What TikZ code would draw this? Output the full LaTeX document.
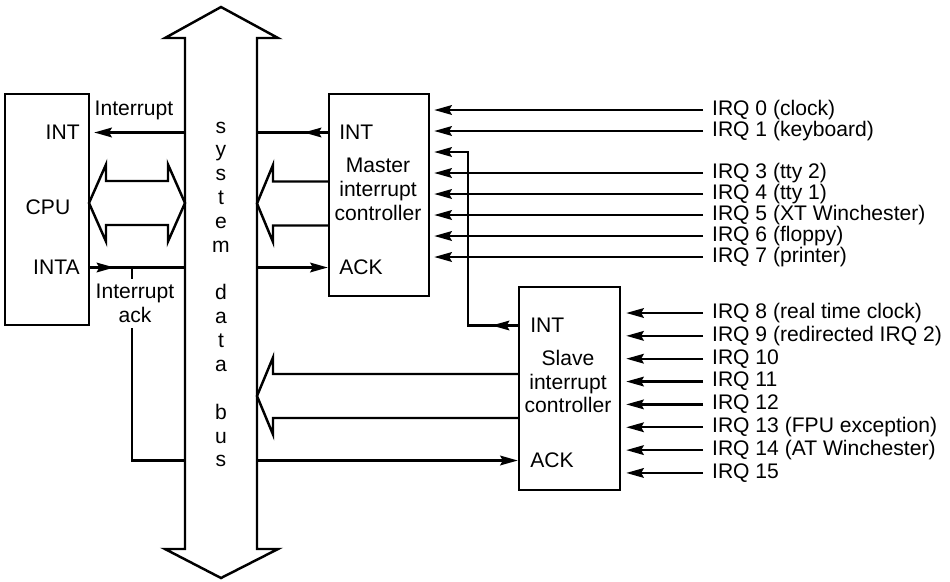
\documentclass[tikz,border=0pt]{standalone}
\usepackage{fontspec}
\setmainfont{Liberation Sans}
\usetikzlibrary{arrows.meta, positioning, calc, decorations.markings}

\begin{document}
\begin{tikzpicture}[
    every node/.style={font=\fontsize{12}{13.6}\selectfont},
    wire/.style={line width=1.3pt},
    sig/.style={wire, -{Stealth[length=10pt, width=5.5pt, inset=1.5pt]}},
    midsig/.style={wire, postaction={decorate}, decoration={markings,
        mark=at position #1 with {\arrow{Stealth[length=10pt, width=5.5pt, inset=1.5pt]}}}},
    box/.style={draw, line width=1.4pt, inner sep=0pt},
    lbl/.style={inner sep=0pt},
    irq/.style={inner sep=5pt, anchor=west},
    fat/.style={line width=1.4pt, line join=miter},
]
\useasboundingbox (0,0) rectangle (19,11.62);

% ---------------------------------------------------------------- the bus
\coordinate (busL) at (3.70, 0);
\coordinate (busR) at (5.14, 0);
\draw[fat] (4.42, 11.48) -- (5.56, 10.86) -- (5.14, 10.86) -- (5.14, 0.64) -- (5.56, 0.64)
    -- (4.42, 0.06) -- (3.30, 0.64) -- (3.70, 0.64) -- (3.70, 10.86) -- (3.30, 10.86) -- cycle;
\foreach \i/\c in {0/s, 1/y, 2/s, 3/t, 4/e, 5/m, 7/d, 8/a, 9/t, 10/a, 12/b, 13/u, 14/s}{
    \node[lbl, anchor=base] (bus\i) at (4.42, {8.96 - \i*0.477}) {\c};
}

% ---------------------------------------------------------------- cpu
\node[box, minimum width=1.68cm, minimum height=4.62cm] (cpu) at (0.94, 7.43) {};
\node[lbl, anchor=east] (cint) at (1.60, 8.97) {INT};
\node[lbl] (cname) at (0.96, 7.48) {CPU};
\node[lbl, anchor=east] (cinta) at (1.60, 6.27) {INTA};
\draw[fat] (1.78, 7.56) -- (2.12, 8.33) -- (2.12, 8.00) -- (3.36, 8.00) -- (3.36, 8.33)
    -- (3.70, 7.56) -- (3.36, 6.79) -- (3.36, 7.12) -- (2.12, 7.12) -- (2.12, 6.79) -- cycle;

% ---------------------------------------------------------------- master
\node[box, minimum width=2.00cm, minimum height=4.04cm] (master) at (7.58, 7.72) {};
\node[lbl, anchor=west] (mint) at (6.78, 8.97) {INT};
\node[lbl, align=center] (mname) at (7.56, 7.84) {Master\\interrupt\\controller};
\node[lbl, anchor=west] (mack) at (6.78, 6.27) {ACK};
\draw[fat] (master.west |- 0,7.99) -- (5.46, 7.99) -- (5.46, 8.32) -- (5.14, 7.55)
    -- (5.46, 6.78) -- (5.46, 7.11) -- (master.west |- 0,7.11);

% ---------------------------------------------------------------- slave
\node[box, minimum width=2.02cm, minimum height=4.06cm] (slave) at (11.39, 3.85) {};
\node[lbl, anchor=west] (sint) at (10.60, 5.11) {INT};
\node[lbl, align=center] (sname) at (11.36, 3.99) {Slave\\interrupt\\controller};
\node[lbl, anchor=west] (sack) at (10.60, 2.41) {ACK};
\draw[fat] (slave.west |- 0,4.14) -- (5.46, 4.14) -- (5.46, 4.47) -- (5.14, 3.70)
    -- (5.46, 2.93) -- (5.46, 3.26) -- (slave.west |- 0,3.26);

% ---------------------------------------------------------------- int / ack
\node[lbl] (intlbl) at (2.68, 9.42) {Interrupt};
\draw[sig, shorten >=0.08cm] (busL |- cint) -- (cpu.east |- cint);
\draw[midsig=0.48cm] (cpu.east |- cinta) -- (busL |- cinta);
\draw[midsig=0.48cm] (master.west |- mint) -- (busR |- mint);
\draw[sig] (busR |- mack) -- (master.west |- mack);

\coordinate (ackj) at (2.64, 6.27);
\node[lbl, align=center, inner sep=3pt] (acklbl) at (2.70, 5.55) {Interrupt\\ack};
\draw[wire] (ackj) -- (ackj |- acklbl.north);
\draw[wire] (ackj |- acklbl.south) -- (ackj |- sack) -- (busL |- sack);
\draw[sig] (busR |- sack) -- (slave.west |- sack);

% cascade, slave into IRQ 2
\draw[midsig=0.52cm, -{Stealth[length=10pt, width=5.5pt, inset=1.5pt]}, shorten >=0.08cm]
    (slave.west |- sint) -- (9.36, 5.11) -- (9.36, 8.58) -- (master.east |- 0,8.58);

% ---------------------------------------------------------------- irq lines
\foreach \k/\t in {0/{IRQ 0 (clock)}, 1/{IRQ 1 (keyboard)}, 3/{IRQ 3 (tty 2)},
    4/{IRQ 4 (tty 1)}, 5/{IRQ 5 (XT Winchester)}, 6/{IRQ 6 (floppy)}, 7/{IRQ 7 (printer)}}{
    \node[irq] (mq\k) at (14.06, {9.42 - \k*0.42}) {\t};
    \draw[sig, shorten >=0.08cm] (mq\k.west) -- (master.east |- mq\k.west);
}
\foreach \k/\t in {0/{IRQ 8 (real time clock)}, 1/{IRQ 9 (redirected IRQ 2)}, 2/{IRQ 10},
    3/{IRQ 11}, 4/{IRQ 12}, 5/{IRQ 13 (FPU exception)}, 6/{IRQ 14 (AT Winchester)}, 7/{IRQ 15}}{
    \node[irq] (sq\k) at (14.06, {5.36 - \k*0.457}) {\t};
    \draw[sig, shorten >=0.1cm] (sq\k.west) -- (slave.east |- sq\k.west);
}
\end{tikzpicture}
\end{document}
